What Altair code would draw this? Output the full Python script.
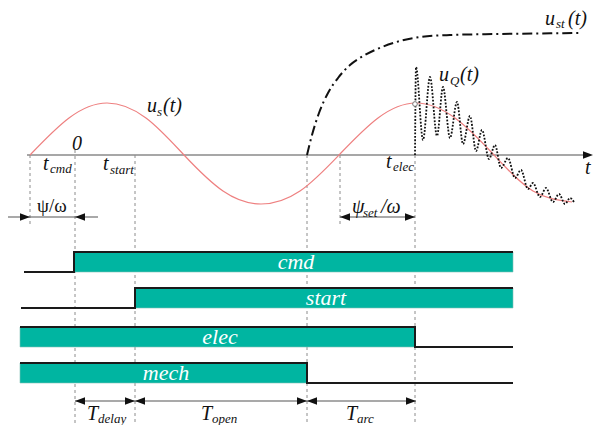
import altair as alt
import pandas as pd

# ---------------- data (diagram units ~ pixels) ----------------
# source voltage u_s(t)
sine_x = [30, 69, 107, 146, 184, 223, 261, 300, 339, 378, 416, 455, 494, 533, 572]
sine_y = [155, 118, 103, 118, 155, 191, 204, 191, 155, 118, 103, 118, 155, 191, 202]

# dielectric strength u_st(t)
ust_x = [307, 312, 319, 328, 338, 350, 365, 382, 400, 420, 450, 500, 580]
ust_y = [155, 135, 113, 93, 78, 65, 55, 47, 41, 37, 35, 34, 33]

# recovery voltage u_Q(t)
uq_x = [415, 416, 423, 430, 437, 443, 450, 457, 463, 470, 476, 482, 489, 495, 501,
        508, 515, 521, 528, 533, 540, 546, 553, 559, 565, 570, 574]
uq_y = [155, 67, 140, 77, 136, 87, 138, 102, 144, 116, 151, 130, 159, 145, 168,
        158, 178, 170, 189, 183, 197, 188, 202, 194, 204, 198, 202]

# time instants (vertical guides)
guide_x = [30, 75, 135, 307, 340, 415]
guide_top = [155, 150, 155, 155, 155, 155]
guide_bottom = [226, 428, 428, 428, 226, 428]

# logic signals
sig_names = ["cmd", "start", "elec", "mech"]
sig_start = [24, 21, 20, 20]
sig_edge = [74, 135, 415, 307]
sig_end = [513, 513, 513, 513]
sig_top = [252, 288, 327, 363]
sig_bottom = [272, 308, 347, 383]
sig_rising = [True, True, False, False]
sig_label_x = [296, 326, 220, 166]

# dimension arrows
dim_x0 = [8, 340, 75, 135, 307]
dim_x1 = [98, 415, 135, 307, 416]
dim_y = [217, 217, 401, 401, 401]
head_r_x = [593, 30, 415, 135, 307, 416]
head_r_y = [155, 217, 217, 401, 401, 401]
head_l_x = [75, 340, 75, 135, 307]
head_l_y = [217, 217, 401, 401, 401]

# labels: main glyphs and subscripts
main_txt = ["t", "t", "t", "u", "u", "u", "t", "T", "T", "T", "ψ", "/ω"]
main_x = [43, 103, 386, 147, 439, 545, 585, 87, 201, 346, 352, 381]
main_y = [164, 164, 162, 106, 75, 19, 168, 414, 414, 414, 207, 207]
sub_txt = ["cmd", "start", "elec", "s", "Q", "st", "delay", "open", "arc", "set"]
sub_x = [50, 110, 393, 157, 450, 556, 98, 212, 357, 363]
sub_y = [169, 170, 167, 112, 81, 24, 419, 419, 419, 213]
paren_txt = ["(t)", "(t)", "(t)", "0"]
paren_x = [163, 460, 568, 72]
paren_y = [106, 75, 19, 144]
psi_txt = ["ψ/ω"]
psi_x = [37]
psi_y = [206]

# ---------------- helpers ----------------
xs = alt.Scale(domain=[8, 593], nice=False, zero=False)
ys = alt.Scale(domain=[8, 425], nice=False, zero=False, reverse=True)


def X(f="x"):
    return alt.X(f"{f}:Q", scale=xs, axis=None)


def Y(f="y"):
    return alt.Y(f"{f}:Q", scale=ys, axis=None)


# ---------------- layers ----------------
guides = alt.Chart(pd.DataFrame({"x": guide_x, "y": guide_top, "y2": guide_bottom})).mark_rule(
    color="#8c8c8c", strokeWidth=1, strokeDash=[3, 3]
).encode(x=X(), y=Y(), y2=alt.Y2("y2:Q"))

axis_line = alt.Chart(pd.DataFrame({"x": [27], "x2": [585], "y": [155]})).mark_rule(
    color="#8a8a8a", strokeWidth=1.5
).encode(x=X(), x2=alt.X2("x2:Q"), y=Y())

sine = alt.Chart(pd.DataFrame({"x": sine_x, "y": sine_y})).mark_line(
    color="#EE8080", strokeWidth=1.2, interpolate="natural"
).encode(x=X(), y=Y())

ust = alt.Chart(pd.DataFrame({"x": ust_x, "y": ust_y})).mark_line(
    color="#111111", strokeWidth=2, strokeDash=[10, 4, 2, 4], interpolate="monotone"
).encode(x=X(), y=Y())

uq_df = pd.DataFrame({"x": uq_x, "y": uq_y, "o": list(range(len(uq_x)))})
uq = alt.Chart(uq_df).mark_line(
    color="#111111", strokeWidth=1.8, strokeDash=[1.8, 1.6], interpolate="monotone"
).encode(x=X(), y=Y(), order="o:Q")

circle = alt.Chart(pd.DataFrame({"x": [415], "y": [104]})).mark_point(
    shape="circle", size=22, filled=True, fill="white", stroke="#777777", strokeWidth=1, opacity=1
).encode(x=X(), y=Y())

bars_df = pd.DataFrame({
    "name": sig_names,
    "x": [e if r else s for s, e, r in zip(sig_start, sig_edge, sig_rising)],
    "x2": [n if r else e for e, n, r in zip(sig_edge, sig_end, sig_rising)],
    "y": sig_top,
    "y2": sig_bottom,
})
bars = alt.Chart(bars_df).mark_rect(
    color="#00B5A1", stroke="#7fbfb5", strokeWidth=0.6
).encode(x=X(), x2=alt.X2("x2:Q"), y=Y(), y2=alt.Y2("y2:Q"))

rows = []
for n, s, e, end, t, b, r in zip(sig_names, sig_start, sig_edge, sig_end, sig_top, sig_bottom, sig_rising):
    first, second = (b, t) if r else (t, b)
    pts = [(s, first), (e, first), (e, second), (end, second)]
    for i, (px, py) in enumerate(pts):
        rows.append({"name": n, "x": px, "y": py, "o": i})
signals = alt.Chart(pd.DataFrame(rows)).mark_line(
    color="#1a1a1a", strokeWidth=2, strokeJoin="miter"
).encode(x=X(), y=Y(), detail="name:N", order="o:Q")

dims = alt.Chart(pd.DataFrame({"x": dim_x0, "x2": dim_x1, "y": dim_y})).mark_rule(
    color="#555555", strokeWidth=1.1
).encode(x=X(), x2=alt.X2("x2:Q"), y=Y())

heads_r = alt.Chart(pd.DataFrame({"x": head_r_x, "y": head_r_y})).mark_point(
    shape="M0,0L-1,-0.38L-1,0.38Z", size=400, filled=True, color="#111111", opacity=1
).encode(x=X(), y=Y())

heads_l = alt.Chart(pd.DataFrame({"x": head_l_x, "y": head_l_y})).mark_point(
    shape="M0,0L1,-0.38L1,0.38Z", size=400, filled=True, color="#111111", opacity=1
).encode(x=X(), y=Y())

serif = "Liberation Serif"

t_main = alt.Chart(pd.DataFrame({"x": main_x, "y": main_y, "t": main_txt})).mark_text(
    font=serif, fontStyle="italic", fontSize=20, align="left", baseline="middle", color="#111111"
).encode(x=X(), y=Y(), text="t:N")

t_sub = alt.Chart(pd.DataFrame({"x": sub_x, "y": sub_y, "t": sub_txt})).mark_text(
    font=serif, fontStyle="italic", fontSize=13, align="left", baseline="middle", color="#111111"
).encode(x=X(), y=Y(), text="t:N")

t_paren = alt.Chart(pd.DataFrame({"x": paren_x, "y": paren_y, "t": paren_txt})).mark_text(
    font=serif, fontStyle="italic", fontSize=20, align="left", baseline="middle", color="#111111"
).encode(x=X(), y=Y(), text="t:N")

t_psi = alt.Chart(pd.DataFrame({"x": psi_x, "y": psi_y, "t": psi_txt})).mark_text(
    font=serif, fontSize=19, align="left", baseline="middle", color="#111111"
).encode(x=X(), y=Y(), text="t:N")

bar_lbl_df = pd.DataFrame({
    "x": sig_label_x,
    "y": [(t + b) / 2 for t, b in zip(sig_top, sig_bottom)],
    "t": sig_names,
})
t_bars = alt.Chart(bar_lbl_df).mark_text(
    font=serif, fontStyle="italic", fontSize=22, align="center", baseline="middle", color="white"
).encode(x=X(), y=Y(), text="t:N")

chart = alt.layer(
    guides, axis_line, sine, ust, uq, circle, bars, signals, dims, heads_r, heads_l,
    t_main, t_sub, t_paren, t_psi, t_bars
).properties(
    width=585, height=417, autosize=alt.AutoSizeParams(type="none"), padding=0, background="white"
).configure_view(stroke=None)

chart.save("out.html", embed_options={"renderer": "svg", "actions": False})
